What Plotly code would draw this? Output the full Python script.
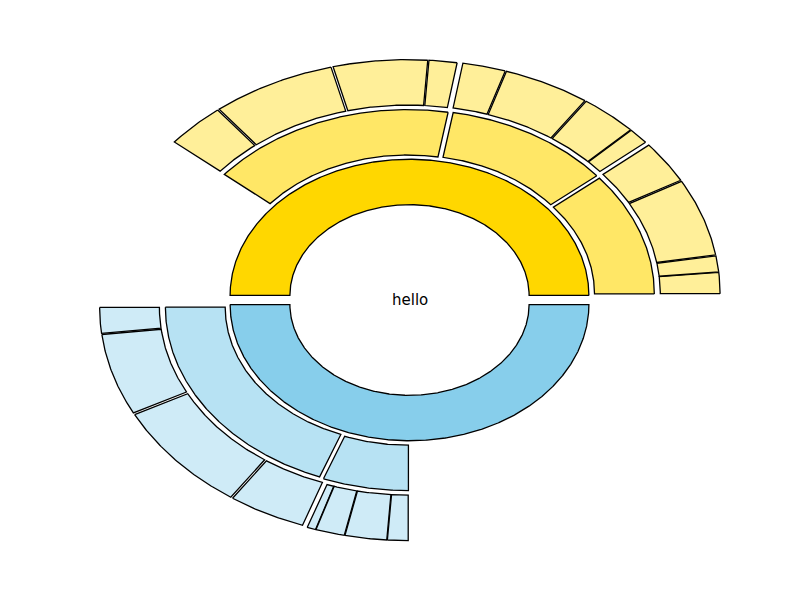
import numpy as np
import plotly.graph_objects as go

# ---- data (share of the full circle, total = 100) ----
center_text = "hello"
root_names = ["gold", "skyblue"]
base_colors = ["#FFD700", "#87CEEB"]
ring1_values = [50, 50]
ring2_values = [
    [11.0, 11.28, 16.6],         # children of gold
    [19.22, 5.78],               # children of skyblue
]
ring3_values = [
    [[1.5, 1.14, 5.5, 3.0], [1.14, 3.11, 4.67, 2.32], [1.51, 5.08, 6.69, 3.22]],
    [[1.83, 5.78, 7.81, 4.19], [0.47, 1.56, 2.25, 1.11]],
]

# ---- style ----
ring_alpha = [1.0, 0.6, 0.4]
TOTAL = 100.0
HOLE = 2.0
WIDTH = 1.0
EXPLODE = 0.1


def blend(hexcol, a):
    hexcol = hexcol.lstrip("#")
    rgb = [int(hexcol[i:i + 2], 16) for i in (0, 2, 4)]
    out = [round(a * c + (1 - a) * 255) for c in rgb]
    return "rgb({},{},{})".format(*out)


def wedge_xy(t1, t2, r_in, r_out, cx, cy):
    n = max(int(abs(t2 - t1) * 3), 10)
    th = np.radians(np.linspace(t1, t2, n))
    xo = cx + r_out * np.cos(th)
    yo = cy + r_out * np.sin(th)
    xi = cx + r_in * np.cos(th[::-1])
    yi = cy + r_in * np.sin(th[::-1])
    x = np.concatenate([xo, xi, xo[:1]])
    y = np.concatenate([yo, yi, yo[:1]])
    return x, y


fig = go.Figure()


def add_wedge(t1, t2, level, cx, cy, color):
    mid = np.radians((t1 + t2) / 2)
    cx = cx + EXPLODE * np.cos(mid)
    cy = cy + EXPLODE * np.sin(mid)
    r_in = HOLE + level * WIDTH
    x, y = wedge_xy(t1, t2, r_in, r_in + WIDTH, cx, cy)
    fig.add_trace(go.Scatter(
        x=x, y=y, mode="lines", fill="toself",
        fillcolor=blend(color, ring_alpha[level]),
        line=dict(color="black", width=1.3),
        hoverinfo="skip", showlegend=False,
    ))
    return cx, cy


start1 = 0.0
for i, v1 in enumerate(ring1_values):
    a1 = v1 / TOTAL * 360
    cx1, cy1 = add_wedge(start1, start1 + a1, 0, 0.0, 0.0, base_colors[i])
    start2 = start1
    start3 = start1
    for j, v2 in enumerate(ring2_values[i]):
        a2 = v2 / TOTAL * 360
        cx2, cy2 = add_wedge(start2, start2 + a2, 1, cx1, cy1, base_colors[i])
        for v3 in ring3_values[i][j]:
            a3 = v3 / TOTAL * 360
            add_wedge(start3, start3 + a3, 2, cx2, cy2, base_colors[i])
            start3 += a3
        start2 += a2
    start1 += a1

fig.add_annotation(
    x=0, y=0, text=center_text, showarrow=False,
    font=dict(family="DejaVu Sans", size=15, color="black"),
    xanchor="center", yanchor="middle",
)

W, H = 784, 584          # page has an 8px body margin
sx = 59.8                # px per unit horizontally
sy = 45.4                # px per unit vertically
cx_px, cy_px = 401.5, 292.0
fig.update_layout(
    width=W, height=H,
    margin=dict(l=0, r=0, t=0, b=0),
    paper_bgcolor="white", plot_bgcolor="white",
    xaxis=dict(range=[-cx_px / sx, (W - cx_px) / sx], visible=False, fixedrange=True),
    yaxis=dict(range=[-(H - cy_px) / sy, cy_px / sy], visible=False, fixedrange=True),
    showlegend=False,
)

fig.write_html("out.html")
